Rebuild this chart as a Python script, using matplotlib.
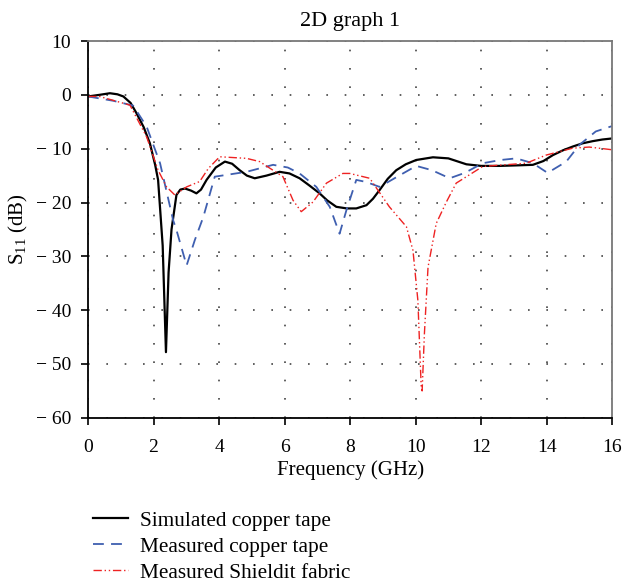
import matplotlib
matplotlib.use("Agg")
import matplotlib.pyplot as plt
from matplotlib.ticker import FuncFormatter

plt.rcParams['font.family'] = ['Liberation Serif', 'DejaVu Serif']
plt.rcParams['mathtext.fontset'] = 'custom'
plt.rcParams['mathtext.rm'] = 'Liberation Serif'

# Simulated copper tape
f_sim = [0.0, 0.35, 0.67, 0.9, 1.08, 1.3, 1.48, 1.7, 1.89, 2.05, 2.14, 2.28, 2.38, 2.46, 2.55,
         2.70, 2.82, 2.96, 3.15, 3.31, 3.45, 3.62, 3.9, 4.18, 4.4, 4.63, 4.85, 5.09, 5.45, 5.85,
         6.15, 6.46, 6.75, 7.07, 7.3, 7.58, 7.9, 8.19, 8.5, 8.7, 8.9, 9.15, 9.41, 9.7, 10.02,
         10.53, 11.0, 11.55, 12.0, 12.56, 13.1, 13.58, 13.9, 14.19, 14.5, 14.8, 15.1, 15.41,
         15.7, 16.0]
s_sim = [-0.3, 0.0, 0.3, 0.1, -0.3, -1.5, -3.4, -6.0, -9.0, -13.0, -15.8, -28.0, -47.8, -33.0, -25.0,
         -18.6, -17.6, -17.4, -17.8, -18.3, -17.6, -15.8, -13.5, -12.4, -12.8, -14.0, -15.0, -15.5, -15.0, -14.3,
         -14.6, -15.5, -16.8, -18.3, -19.6, -20.8, -21.1, -21.1, -20.5, -19.3, -17.7, -15.6, -14.0, -12.9, -12.1,
         -11.6, -11.8, -12.9, -13.2, -13.2, -13.1, -13.0, -12.3, -11.2, -10.3, -9.6, -9.0, -8.6,
         -8.3, -8.1]

# Measured copper tape
f_cu = [0.0, 0.77, 1.38, 1.79, 2.2, 2.6, 2.7, 3.01, 3.26, 3.52, 3.87, 4.84, 5.65, 6.1, 6.46,
        6.97, 7.38, 7.68, 7.89, 8.19, 8.5, 8.9, 9.5, 10.02, 10.5, 11.04, 11.5, 12.05, 12.6, 13.07,
        13.58, 14.03, 14.6, 15.0, 15.5, 16.0]
s_cu = [-0.3, -1.1, -2.0, -5.9, -12.7, -23.3, -25.1, -31.7, -27.0, -22.7, -15.2, -14.3, -13.0, -13.5, -14.6,
        -17.1, -20.8, -25.8, -21.4, -15.8, -16.2, -17.1, -15.0, -13.2, -14.0, -15.5, -14.5, -12.7, -12.1, -11.8,
        -12.7, -14.5, -12.4, -9.3, -6.8, -5.8]

# Measured Shieldit fabric
f_sh = [0.0, 0.35, 1.28, 1.79, 2.14, 2.4, 2.65, 3.01, 3.41, 3.67, 4.02, 4.84, 5.24, 5.95,
        6.26, 6.51, 6.87, 7.28, 7.78, 7.99, 8.6, 9.2, 9.72, 9.92, 10.07, 10.17, 10.2, 10.27,
        10.38, 10.63, 10.94, 11.24, 12.05, 13.38, 13.98, 14.8, 15.3, 16.0]
s_sh = [-0.3, -0.3, -1.9, -7.8, -14.0, -17.1, -18.6, -17.1, -16.1, -13.7, -11.5, -11.8, -12.4, -15.2,
        -19.6, -21.7, -19.9, -16.4, -14.6, -14.6, -15.5, -20.8, -24.5, -28.9, -38.2, -54.0, -55.0, -44.3,
        -32.0, -23.9, -19.9, -16.4, -13.3, -12.7, -11.2, -9.9, -9.7, -10.2]

fig = plt.figure(figsize=(6.24, 5.86), dpi=100)
ax = fig.add_axes([0.141, 0.287, 0.840, 0.643])

ax.plot(f_sim, s_sim, color='black', lw=1.6, label='Simulated copper tape')
ax.plot(f_cu, s_cu, color='#3f5fb0', lw=1.3, linestyle=(0, (6, 4)), label='Measured copper tape')
ax.plot(f_sh, s_sh, color='#ee2222', lw=1.0, linestyle=(0, (6, 2, 1, 2, 1, 2)),
        label='Measured Shieldit fabric')

ax.set_xlim(0, 16)
ax.set_ylim(-60, 10)
ax.set_xticks(range(0, 17, 2))
ax.set_yticks(range(-60, 11, 10))
ax.yaxis.set_major_formatter(FuncFormatter(lambda v, p: f"\u2212 {abs(int(v))}" if v < 0 else f"{int(v)}"))
ax.grid(True, color='#444444', linestyle=(0, (1, 10)), lw=1.2)
ax.tick_params(direction='out', length=5, width=1.2, labelsize=14, colors='black')
ax.tick_params(axis='x', pad=10)
ax.tick_params(axis='y', pad=7)
for s in ['top', 'right']:
    ax.spines[s].set_color('#777777')
for s in ax.spines.values():
    s.set_linewidth(1.3)

ax.set_xlabel('Frequency (GHz)', fontsize=15, labelpad=3)
ax.set_ylabel('S$_{11}$ (dB)', fontsize=15, labelpad=4)
ax.set_title('2D graph 1', fontsize=16, pad=11)

fig.legend(loc='upper left', bbox_to_anchor=(0.149, 0.128), frameon=False,
           fontsize=15.3, handlelength=1.65, handletextpad=0.56, labelspacing=0.28,
           borderpad=0, borderaxespad=0)

fig.savefig('out.png', dpi=100)
